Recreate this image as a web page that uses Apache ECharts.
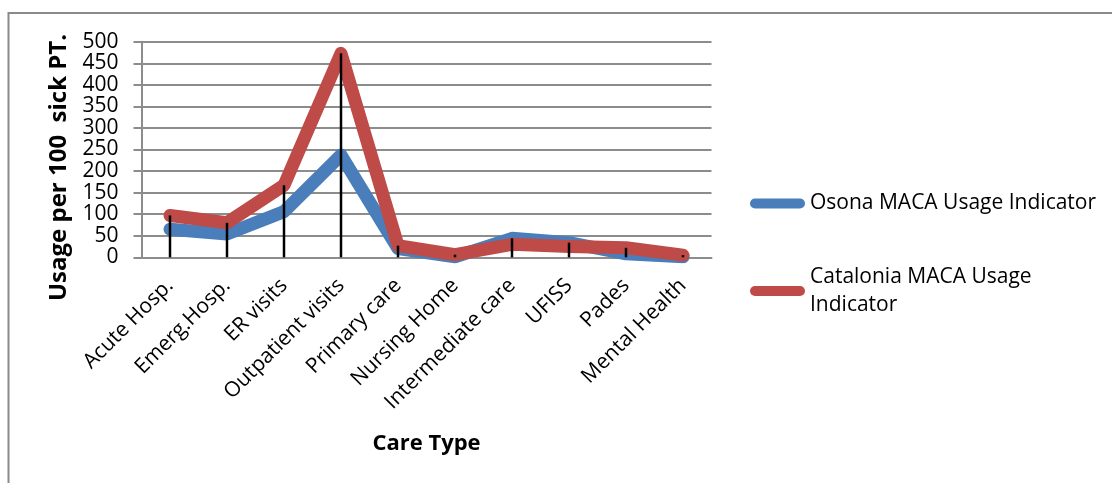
<!DOCTYPE html>
<html>
<head>
<meta charset="utf-8">
<script src="https://cdn.jsdelivr.net/npm/echarts@6/dist/echarts.min.js"></script>
<style>
  html, body { margin: 0; padding: 0; background: #fff; }
  #chart { width: 1112px; height: 483px; }
</style>
</head>
<body>
<div id="chart"></div>
<script>
// Care types on the category axis
const careTypes = ['Acute Hosp.', 'Emerg.Hosp.', 'ER visits', 'Outpatient visits', 'Primary care',
  'Nursing Home', 'Intermediate care', 'UFISS', 'Pades', 'Mental Health'];
// Usage per 100 sick patients
const osonaUsage = [65, 54, 106, 237, 20, 1, 44, 34, 8, 1];
const cataloniaUsage = [97, 80, 167, 473, 27, 6, 30, 25, 22, 5];
// Value axis ticks
const yTicks = [0, 50, 100, 150, 200, 250, 300, 350, 400, 450, 500];

const seriesNames = ['Osona MACA Usage Indicator', 'Catalonia MACA Usage Indicator'];
// Drop lines run from the higher of the two points down to the axis
const dropLines = osonaUsage.map((v, i) => Math.max(v, cataloniaUsage[i]));

const font = '"Open Sans", "Noto Sans", sans-serif';
const gridGray = '#8c8c8c';
const capsule = 'path://M5,0 L50,0 A5,5 0 0 1 50,10 L5,10 A5,5 0 0 1 5,0 Z';

const chart = echarts.init(document.getElementById('chart'), null, { renderer: 'canvas' });
chart.setOption({
  animation: false,
  backgroundColor: '#fff',
  graphic: [{
    type: 'rect',
    shape: { x: 8.5, y: 13, width: 1200, height: 600 },
    style: { fill: 'none', stroke: '#8a8a8a', lineWidth: 2 },
    silent: true
  }],
  grid: { left: 141.5, top: 41.7, right: 400.5, bottom: 225.7, containLabel: false },
  legend: [{
    data: [seriesNames[0]],
    left: 745, top: 188,
    orient: 'vertical',
    icon: capsule, itemWidth: 55, itemHeight: 10,
    textStyle: { fontFamily: font, fontSize: 21, color: '#000' }
  }, {
    data: [seriesNames[1]],
    left: 745, top: 244,
    orient: 'vertical',
    icon: capsule, itemWidth: 55, itemHeight: 10,
    formatter: () => 'Catalonia MACA Usage\nIndicator',
    textStyle: { fontFamily: font, fontSize: 21, color: '#000', lineHeight: 28, padding: [28, 0, 0, 0] }
  }],
  xAxis: {
    type: 'category',
    data: careTypes,
    boundaryGap: true,
    name: 'Care Type',
    nameLocation: 'middle',
    nameGap: 175,
    nameTextStyle: { fontFamily: font, fontSize: 22, fontWeight: 'bold', color: '#000' },
    axisLine: { lineStyle: { color: gridGray, width: 2 } },
    axisTick: { show: false },
    axisLabel: { rotate: 45, margin: 25, interval: 0, fontFamily: font, fontSize: 21, color: '#000' }
  },
  yAxis: {
    type: 'value',
    min: yTicks[0], max: yTicks[yTicks.length - 1], interval: yTicks[1] - yTicks[0],
    name: 'Usage per 100  sick PT.',
    nameLocation: 'middle',
    nameRotate: 90,
    nameGap: 64,
    nameTextStyle: { fontFamily: font, fontSize: 24, fontWeight: 'bold', color: '#000', padding: [0, 36, 0, 0] },
    axisLine: { show: true, lineStyle: { color: gridGray, width: 2 } },
    axisTick: { show: true, length: 8, lineStyle: { color: gridGray, width: 2 } },
    axisLabel: { margin: 23, fontFamily: font, fontSize: 21, color: '#000' },
    splitLine: { lineStyle: { color: gridGray, width: 2 } }
  },
  series: [{
    name: seriesNames[0],
    type: 'line',
    data: osonaUsage,
    showSymbol: false,
    color: '#4a7ebb',
    lineStyle: { width: 13, cap: 'round', join: 'round', color: '#4a7ebb' },
    z: 2
  }, {
    name: seriesNames[1],
    type: 'line',
    data: cataloniaUsage,
    showSymbol: false,
    color: '#be4b48',
    lineStyle: { width: 13, cap: 'round', join: 'round', color: '#be4b48' },
    z: 3
  }, {
    name: 'drop',
    type: 'bar',
    data: dropLines,
    barWidth: 2.5,
    itemStyle: { color: '#000' },
    z: 4,
    silent: true
  }]
});
</script>
</body>
</html>
